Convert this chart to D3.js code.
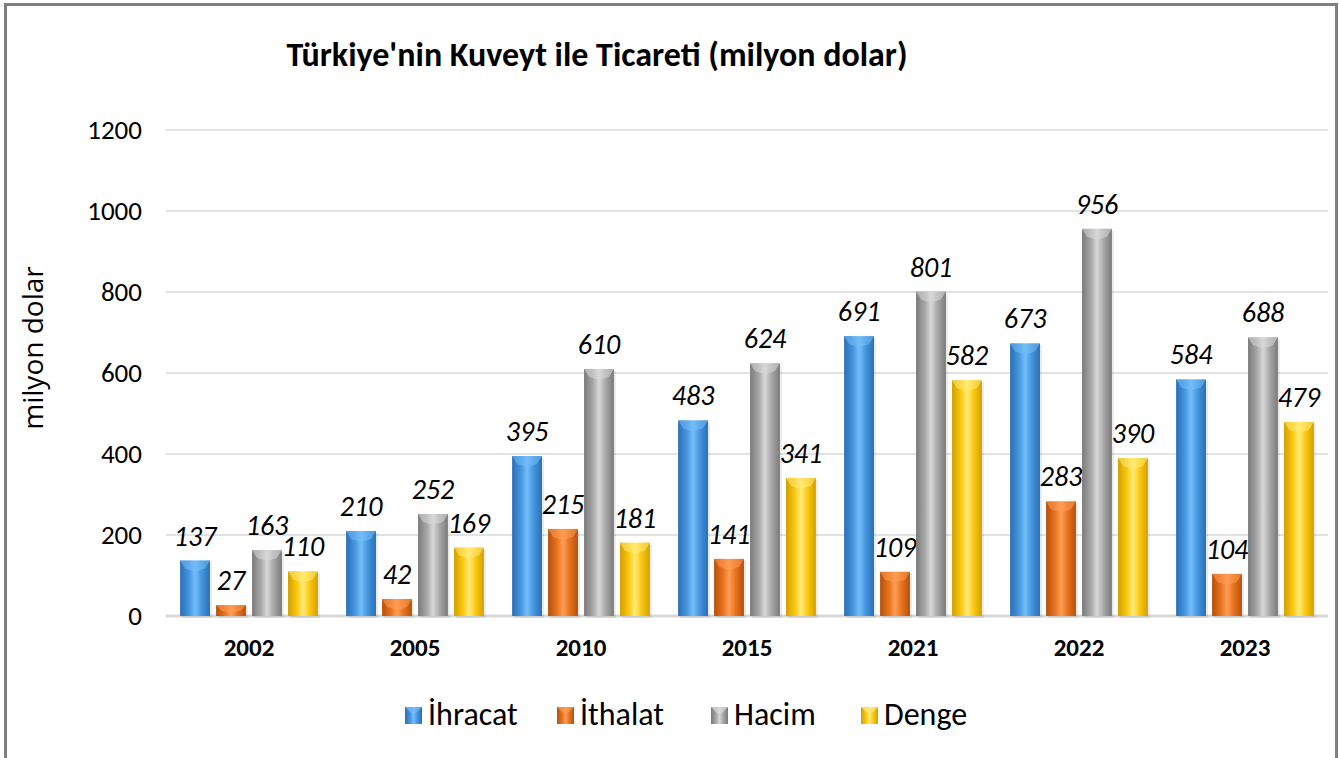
<!DOCTYPE html>
<html lang="tr">
<head>
<meta charset="UTF-8">
<title>Türkiye'nin Kuveyt ile Ticareti</title>
<style>
    body { margin: 0; background: #fff; }
    svg { display: block; font-family: Carlito, Calibri, "Open Sans", "DejaVu Sans", sans-serif; }
</style>
</head>
<body>
<div id="chart"></div>
<script src="https://d3js.org/d3.v7.min.js"></script>
<script>
// values
const years = ["2002", "2005", "2010", "2015", "2021", "2022", "2023"];
const seriesNames = ["İhracat", "İthalat", "Hacim", "Denge"];
const ihracat = [137, 210, 395, 483, 691, 673, 584];
const ithalat = [27, 42, 215, 141, 109, 283, 104];
const hacim = [163, 252, 610, 624, 801, 956, 688];
const denge = [110, 169, 181, 341, 582, 390, 479];
const yTicks = [0, 200, 400, 600, 800, 1000, 1200];

const seriesValues = [ihracat, ithalat, hacim, denge];
const FONT = "Carlito, Calibri, 'Open Sans', 'DejaVu Sans', sans-serif";
// dark edge, light middle for each cylinder
const colors = [
    { dark: "#2a6fb5", mid: "#4596e0", light: "#74bdf8" },
    { dark: "#b4500c", mid: "#e8731e", light: "#ff9d55" },
    { dark: "#7a7a7a", mid: "#a8a8a8", light: "#d8d8d8" },
    { dark: "#d2a000", mid: "#fcc810", light: "#ffeb7a" }
];

const W = 1339, H = 758;
const margin = { left: 166, right: 11, top: 130, bottom: 142 };

const svg = d3.select("#chart").append("svg")
    .attr("width", W)
    .attr("height", H);

// outer border
svg.append("rect")
    .attr("x", 5.5).attr("y", 4.5)
    .attr("width", W - 8).attr("height", H + 10)
    .attr("fill", "none")
    .attr("stroke", "#7f7f7f")
    .attr("stroke-width", 3);

const defs = svg.append("defs");
colors.forEach((c, i) => {
    const g = defs.append("linearGradient")
        .attr("id", "cyl" + i)
        .attr("x1", "0%").attr("x2", "100%").attr("y1", "0%").attr("y2", "0%");
    g.append("stop").attr("offset", "0%").attr("stop-color", c.dark);
    g.append("stop").attr("offset", "30%").attr("stop-color", c.mid);
    g.append("stop").attr("offset", "50%").attr("stop-color", c.light);
    g.append("stop").attr("offset", "72%").attr("stop-color", c.mid);
    g.append("stop").attr("offset", "100%").attr("stop-color", c.dark);
});

const x0 = d3.scaleBand()
    .domain(years)
    .range([margin.left, W - margin.right])
    .paddingInner(0.17)
    .paddingOuter(0.085);

const x1 = d3.scaleBand()
    .domain(d3.range(4))
    .range([0, x0.bandwidth()])
    .paddingInner(0.17);

const y = d3.scaleLinear()
    .domain([0, 1200])
    .range([H - margin.bottom, margin.top]);

// gridlines
svg.append("g")
    .selectAll("line")
    .data(yTicks)
    .join("line")
    .attr("x1", margin.left)
    .attr("x2", W - margin.right)
    .attr("y1", d => y(d))
    .attr("y2", d => y(d))
    .attr("stroke", "#d9d9d9")
    .attr("stroke-width", d => d === 0 ? 3 : 1.5);

// y axis labels
const yAxis = svg.append("g")
    .attr("transform", `translate(${margin.left - 24},0)`)
    .call(d3.axisLeft(y).tickValues(yTicks).tickFormat(d3.format("d")).tickSize(0).tickPadding(0));
yAxis.select(".domain").remove();
yAxis.attr("font-family", null);
yAxis.selectAll("text")
    .attr("font-size", 27)
    .attr("fill", "#000")
    .style("font-family", FONT);

// x axis labels
const xAxis = svg.append("g")
    .attr("transform", `translate(0,${H - margin.bottom})`)
    .call(d3.axisBottom(x0).tickSize(0).tickPadding(22));
xAxis.select(".domain").remove();
xAxis.attr("font-family", null);
xAxis.selectAll("text")
    .attr("font-size", 25)
    .attr("font-weight", "bold")
    .attr("fill", "#000")
    .style("font-family", FONT);

// bars
const groups = svg.append("g")
    .selectAll("g")
    .data(years)
    .join("g")
    .attr("transform", d => `translate(${x0(d)},0)`);

groups.each(function(year, yi) {
    const g = d3.select(this);
    seriesValues.forEach((vals, si) => {
        const v = vals[yi];
        const bx = x1(si), bw = x1.bandwidth();
        const top = y(v), base = y(0);
        // soft shadow
        g.append("rect")
            .attr("x", bx + 2).attr("y", top + 2)
            .attr("width", bw).attr("height", base - top)
            .attr("fill", "#000").attr("opacity", 0.08);
        g.append("rect")
            .attr("x", bx).attr("y", top)
            .attr("width", bw).attr("height", base - top)
            .attr("fill", `url(#cyl${si})`);
        // top bevel
        const cap = Math.min(8, (base - top) / 2);
        g.append("path")
            .attr("d", `M${bx},${top}L${bx + bw},${top}L${bx + bw - 5},${top + cap}L${bx + bw / 2},${top + cap + 3}L${bx + 5},${top + cap}Z`)
            .attr("fill", colors[si].light)
            .attr("opacity", 0.55);
        g.append("text")
            .attr("x", bx + bw / 2)
            .attr("y", top - 15)
            .attr("text-anchor", "middle")
            .attr("font-size", 28)
            .attr("font-style", "italic")
            .attr("fill", "#000")
            .text(v);
    });
});

// title
svg.append("text")
    .attr("x", 597)
    .attr("y", 66)
    .attr("text-anchor", "middle")
    .attr("font-size", 34)
    .attr("font-weight", "bold")
    .text("Türkiye'nin Kuveyt ile Ticareti (milyon dolar)");

// y axis title
svg.append("text")
    .attr("transform", `translate(43,348) rotate(-90)`)
    .attr("text-anchor", "middle")
    .attr("font-size", 28)
    .style("font-family", "'Open Sans', sans-serif")
    .text("milyon dolar");

// legend
const legendX = [405, 557, 711, 861];
const legend = svg.append("g")
    .selectAll("g")
    .data(seriesNames)
    .join("g")
    .attr("transform", (d, i) => `translate(${legendX[i]},715)`);
legend.append("rect")
    .attr("x", 0).attr("y", -8)
    .attr("width", 17).attr("height", 17)
    .attr("fill", (d, i) => `url(#cyl${i})`);
legend.append("path")
    .attr("d", "M0,-8L17,-8L12,-3L8.5,-1L5,-3Z")
    .attr("fill", (d, i) => colors[i].light)
    .attr("opacity", 0.7);
legend.append("text")
    .attr("x", 23)
    .attr("y", 10)
    .attr("font-size", 32)
    .text(d => d);
</script>
</body>
</html>
